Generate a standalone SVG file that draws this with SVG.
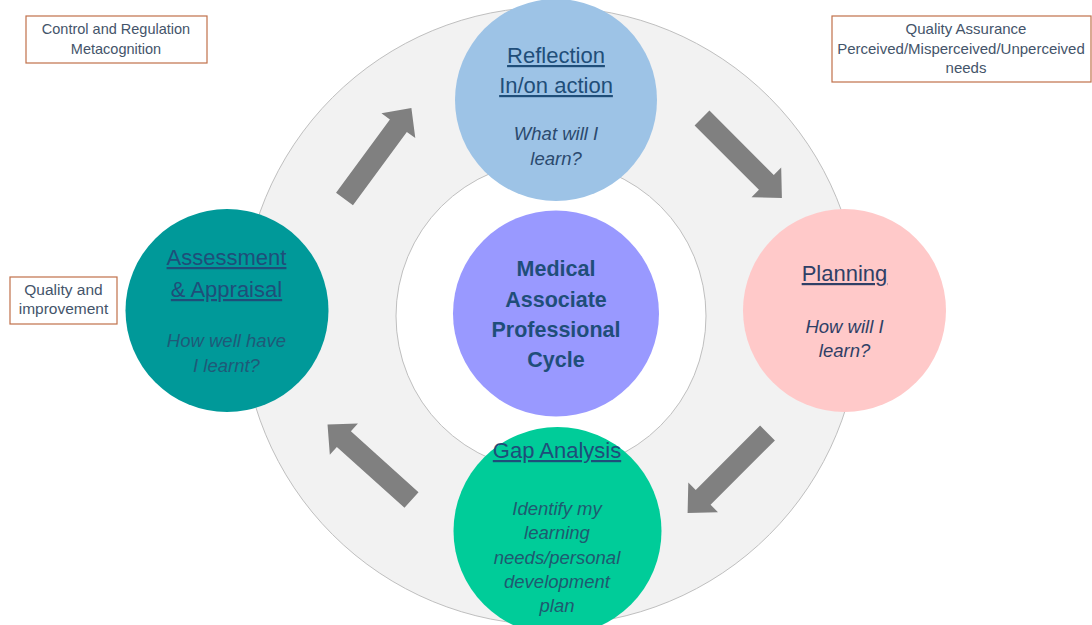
<svg xmlns="http://www.w3.org/2000/svg" width="1092" height="625" viewBox="0 0 1092 625">
<style>
.box{fill:#ffffff;stroke:#c0704a;stroke-width:1.2}
.bt{font-family:"Liberation Sans",Arial,sans-serif;font-size:14.5px;fill:#44546a;text-anchor:middle}
.hd{font-family:"Liberation Sans",Arial,sans-serif;font-size:22px;fill:#1f4e79;text-anchor:middle;text-decoration:underline}
.it{font-family:"Liberation Sans",Arial,sans-serif;font-size:18.5px;font-style:italic;fill:#2b4a6e;text-anchor:middle}
.ct{font-family:"Liberation Sans",Arial,sans-serif;font-size:21.5px;font-weight:bold;fill:#1f4e79;text-anchor:middle}
.arr{fill:#808080}
</style>
<defs>
<path id="blk" d="M0,-10.5 H91 V-21 L113,0 L91,21 V10.5 H0 Z"/>
</defs>
<rect width="1092" height="625" fill="#ffffff"/>
<circle cx="551" cy="316" r="309" fill="#f2f2f2" stroke="#bfbfbf" stroke-width="1"/>
<circle cx="551" cy="316" r="155" fill="#ffffff" stroke="#bfbfbf" stroke-width="1"/>

<g id="box-control">
<rect class="box" x="26" y="16" width="181" height="47"/>
<text class="bt" x="116" y="34">Control and Regulation</text>
<text class="bt" x="116" y="54">Metacognition</text>
</g>
<g id="box-quality-assurance">
<rect class="box" x="832" y="16" width="259" height="66"/>
<text class="bt" x="966" y="34" style="font-size:15px">Quality Assurance</text>
<text class="bt" x="961" y="54" style="font-size:15px">Perceived/Misperceived/Unperceived</text>
<text class="bt" x="966" y="73" style="font-size:15px">needs</text>
</g>
<g id="box-quality-improvement">
<rect class="box" x="10" y="277" width="107" height="47"/>
<text class="bt" x="63.5" y="295" style="font-size:15.5px">Quality and</text>
<text class="bt" x="63.5" y="314" style="font-size:15.5px">improvement</text>
</g>

<g id="node-reflection">
<circle cx="556" cy="100" r="101" fill="#9dc3e6"/>
<text class="hd" x="556" y="63">Reflection</text>
<text class="hd" x="556" y="93">In/on action</text>
<text class="it" x="556" y="140">What will I</text>
<text class="it" x="556" y="165">learn?</text>
</g>
<g id="node-planning">
<circle cx="844.5" cy="310.5" r="101.5" fill="#ffc9c9"/>
<text class="hd" x="844.5" y="281" style="fill:#2f3f66">Planning</text>
<text class="it" x="844.5" y="333" style="fill:#2f3f66">How will I</text>
<text class="it" x="844.5" y="357" style="fill:#2f3f66">learn?</text>
</g>
<g id="node-assessment">
<circle cx="227" cy="310.5" r="101.5" fill="#009999"/>
<text class="hd" x="226.5" y="265">Assessment</text>
<text class="hd" x="226.5" y="297">&amp; Appraisal</text>
<text class="it" x="226.5" y="347" style="fill:#1f5a78">How well have</text>
<text class="it" x="226.5" y="372" style="fill:#1f5a78">I learnt?</text>
</g>
<g id="node-center">
<circle cx="556" cy="313.5" r="103" fill="#9999ff"/>
<text class="ct" x="556" y="276">Medical</text>
<text class="ct" x="556" y="307">Associate</text>
<text class="ct" x="556" y="337">Professional</text>
<text class="ct" x="556" y="367">Cycle</text>
</g>
<g id="node-gap">
<circle cx="557.5" cy="531" r="104" fill="#00cc99"/>
<text class="hd" x="557" y="458">Gap Analysis</text>
<text class="it" x="557" y="515" style="fill:#1f5a70">Identify my</text>
<text class="it" x="557" y="539" style="fill:#1f5a70">learning</text>
<text class="it" x="557" y="564" style="fill:#1f5a70">needs/personal</text>
<text class="it" x="557" y="588" style="fill:#1f5a70">development</text>
<text class="it" x="557" y="612" style="fill:#1f5a70">plan</text>
</g>

<g id="connectors">
<use href="#blk" class="arr" transform="translate(344.5,199) rotate(-53.7)"/>
<use href="#blk" class="arr" transform="translate(702,118) rotate(45)"/>
<use href="#blk" class="arr" transform="translate(767.5,433) rotate(135)"/>
<use href="#blk" class="arr" transform="translate(411.5,500) rotate(-138)"/>
</g>
</svg>
